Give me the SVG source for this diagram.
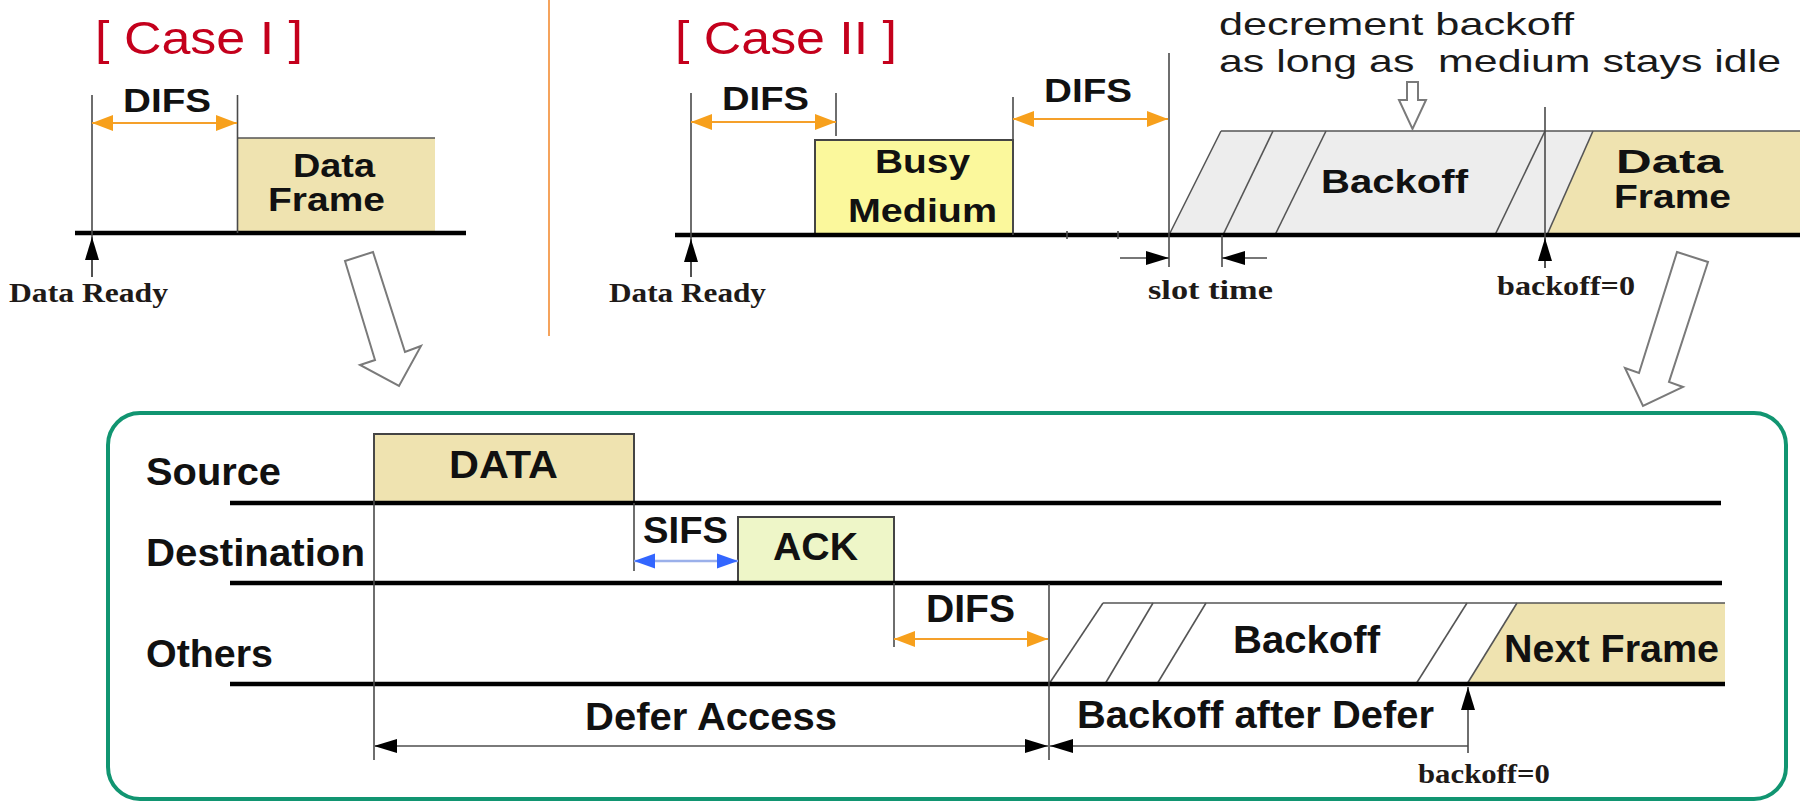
<svg xmlns="http://www.w3.org/2000/svg" width="1806" height="803" viewBox="0 0 1806 803">
  <style>
    .sans { font-family: "Liberation Sans", Arial, sans-serif; font-weight: bold; fill: #111; }
    .thin { font-family: "Liberation Sans", Arial, sans-serif; font-weight: normal; fill: #1a1a1a; white-space: pre; }
    .case { font-family: "Liberation Sans", Arial, sans-serif; font-weight: normal; fill: #c4001c; }
    .serif { font-family: "Liberation Serif", "Times New Roman", serif; font-weight: bold; fill: #1e1a18; }
    .axis { stroke: #000; stroke-width: 4.5; fill: none; }
    .tick { stroke: #4a4a4a; stroke-width: 1.6; fill: none; }
    .edge { stroke: #555; stroke-width: 1.6; fill: none; }
    .box { stroke: #444; stroke-width: 2; }
    .tan { fill: #efe3b0; }
    .orange { stroke: #f5a02a; stroke-width: 2.2; fill: none; }
    .blue { stroke: #9bb0ea; stroke-width: 2.5; fill: none; }
    .dim { stroke: #7a7a7a; stroke-width: 2; fill: none; }
    .hollow { fill: #fff; stroke: #7a7a7a; stroke-width: 2; stroke-linejoin: miter; }
  </style>
  <defs>
    <marker id="mo" markerUnits="userSpaceOnUse" markerWidth="22" markerHeight="18" refX="21" refY="9" orient="auto-start-reverse">
      <path d="M0,1 L21,9 L0,17 Z" fill="#f7a01c"/>
    </marker>
    <marker id="mb" markerUnits="userSpaceOnUse" markerWidth="22" markerHeight="18" refX="21" refY="9" orient="auto-start-reverse">
      <path d="M0,1.5 L21,9 L0,16.5 Z" fill="#3366ff"/>
    </marker>
    <marker id="mk" markerUnits="userSpaceOnUse" markerWidth="24" markerHeight="16" refX="23" refY="8" orient="auto-start-reverse">
      <path d="M0,1 L23,8 L0,15 Z" fill="#000"/>
    </marker>
  </defs>

  <rect width="1806" height="803" fill="#fff"/>

  <!-- separator between the two cases -->
  <line x1="549" y1="0" x2="549" y2="336" stroke="#f5a35c" stroke-width="2"/>

  <!-- ===== Case I ===== -->
  <g id="case1-title">
    <text class="case" x="95" y="54" font-size="46" textLength="208" lengthAdjust="spacingAndGlyphs">[ Case I ]</text>
  </g>
  <g id="case1-frame">
    <rect class="tan" x="237.5" y="138" width="197.5" height="95"/>
    <line class="edge" x1="237.5" y1="138" x2="435" y2="138" stroke-width="2.4"/>
    <text class="sans" x="293" y="177" font-size="33" textLength="82" lengthAdjust="spacingAndGlyphs">Data</text>
    <text class="sans" x="268" y="211" font-size="33" textLength="117" lengthAdjust="spacingAndGlyphs">Frame</text>
  </g>
  <g id="case1-ready">
    <text class="serif" x="9" y="302" font-size="27" textLength="159" lengthAdjust="spacingAndGlyphs">Data Ready</text>
  </g>
  <g id="case1-difs">
    <text class="sans" x="123" y="112" font-size="34" textLength="88" lengthAdjust="spacingAndGlyphs">DIFS</text>
  </g>

  <!-- ===== Case II ===== -->
  <g id="case2-title">
    <text class="case" x="675" y="54" font-size="46" textLength="222" lengthAdjust="spacingAndGlyphs">[ Case II ]</text>
  </g>
  <g id="case2-busy">
    <rect class="box" x="815" y="140" width="198" height="95" fill="#fbf89c"/>
    <text class="sans" x="875" y="173" font-size="34" textLength="95" lengthAdjust="spacingAndGlyphs">Busy</text>
    <text class="sans" x="848" y="222" font-size="34" textLength="149" lengthAdjust="spacingAndGlyphs">Medium</text>
  </g>
  <g id="case2-difs1">
    <text class="sans" x="722" y="110" font-size="34" textLength="87" lengthAdjust="spacingAndGlyphs">DIFS</text>
  </g>
  <g id="case2-difs2">
    <text class="sans" x="1044" y="102" font-size="34" textLength="88" lengthAdjust="spacingAndGlyphs">DIFS</text>
  </g>
  <g id="case2-note">
    <text class="thin" x="1219" y="35" font-size="32" textLength="355" lengthAdjust="spacingAndGlyphs">decrement backoff</text>
    <text class="thin" x="1219" y="72" font-size="32" textLength="562" lengthAdjust="spacingAndGlyphs">as long as  medium stays idle</text>
  </g>
  <g id="case2-backoff">
    <polygon points="1169,235 1221,131 1593,131 1547,235" fill="#ededed"/>
    <polygon class="tan" points="1547,235 1593,131 1800,131 1800,235"/>
    <line class="edge" x1="1221" y1="131" x2="1800" y2="131"/>
    <line class="edge" x1="1169" y1="235" x2="1221" y2="131"/>
    <line class="edge" x1="1223" y1="235" x2="1273" y2="131"/>
    <line class="edge" x1="1275" y1="235" x2="1326" y2="131"/>
    <line class="edge" x1="1495" y1="235" x2="1545" y2="131"/>
    <line class="edge" x1="1547" y1="235" x2="1593" y2="131"/>
    <text class="sans" x="1321" y="193" font-size="34" textLength="147" lengthAdjust="spacingAndGlyphs">Backoff</text>
  </g>
  <g id="case2-frame">
    <text class="sans" x="1616" y="173" font-size="33" textLength="107" lengthAdjust="spacingAndGlyphs">Data</text>
    <text class="sans" x="1614" y="208" font-size="33" textLength="117" lengthAdjust="spacingAndGlyphs">Frame</text>
  </g>
  <g id="case2-ready">
    <text class="serif" x="609" y="302" font-size="27" textLength="157" lengthAdjust="spacingAndGlyphs">Data Ready</text>
  </g>
  <g id="case2-slot">
    <text class="serif" x="1148" y="299" font-size="27" textLength="125" lengthAdjust="spacingAndGlyphs">slot time</text>
  </g>
  <g id="case2-zero">
    <text class="serif" x="1497" y="295" font-size="27" textLength="138" lengthAdjust="spacingAndGlyphs">backoff=0</text>
  </g>

  <!-- ===== exchange timeline ===== -->
  <g id="exchange-panel">
    <rect x="108" y="413" width="1678" height="386" rx="32" ry="32" fill="none" stroke="#119571" stroke-width="4"/>
  </g>
  <g id="row-source">
    <text class="sans" x="146" y="485" font-size="38" textLength="135" lengthAdjust="spacingAndGlyphs">Source</text>
  </g>
  <g id="row-destination">
    <text class="sans" x="146" y="566" font-size="38" textLength="219" lengthAdjust="spacingAndGlyphs">Destination</text>
  </g>
  <g id="row-others">
    <text class="sans" x="146" y="667" font-size="38" textLength="127" lengthAdjust="spacingAndGlyphs">Others</text>
  </g>
  <g id="frame-data">
    <rect class="box tan" x="374" y="434" width="260" height="69"/>
    <text class="sans" x="449" y="478" font-size="38" textLength="109" lengthAdjust="spacingAndGlyphs">DATA</text>
  </g>
  <g id="gap-sifs">
    <text class="sans" x="643" y="543" font-size="37" textLength="85" lengthAdjust="spacingAndGlyphs">SIFS</text>
  </g>
  <g id="frame-ack">
    <rect class="box" x="738" y="517" width="156" height="66" fill="#eef6c8"/>
    <text class="sans" x="773" y="560" font-size="38" textLength="85" lengthAdjust="spacingAndGlyphs">ACK</text>
  </g>
  <g id="gap-difs">
    <text class="sans" x="926" y="622" font-size="38" textLength="89" lengthAdjust="spacingAndGlyphs">DIFS</text>
  </g>
  <g id="others-backoff">
    <polygon points="1049,684 1103,603 1517,603 1467,684" fill="#fff"/>
    <polygon class="tan" points="1467,684 1517,603 1725,603 1725,684"/>
    <line class="edge" x1="1103" y1="603" x2="1725" y2="603"/>
    <line class="edge" x1="1049" y1="684" x2="1103" y2="603"/>
    <line class="edge" x1="1105" y1="684" x2="1153" y2="603"/>
    <line class="edge" x1="1157" y1="684" x2="1206" y2="603"/>
    <line class="edge" x1="1416" y1="684" x2="1467" y2="603"/>
    <line class="edge" x1="1467" y1="684" x2="1517" y2="603"/>
    <text class="sans" x="1233" y="653" font-size="38" textLength="147" lengthAdjust="spacingAndGlyphs">Backoff</text>
  </g>
  <g id="frame-next">
    <text class="sans" x="1504" y="662" font-size="38" textLength="215" lengthAdjust="spacingAndGlyphs">Next Frame</text>
  </g>
  <g id="span-defer">
    <text class="sans" x="585" y="730" font-size="38" textLength="252" lengthAdjust="spacingAndGlyphs">Defer Access</text>
  </g>
  <g id="span-backoff">
    <text class="sans" x="1077" y="728" font-size="38" textLength="357" lengthAdjust="spacingAndGlyphs">Backoff after Defer</text>
  </g>
  <g id="others-zero">
    <text class="serif" x="1418" y="783" font-size="27" textLength="132" lengthAdjust="spacingAndGlyphs">backoff=0</text>
  </g>

  <!-- ===== connectors: time axes, markers, spans and transition arrows ===== -->
  <g id="connectors">
    <!-- time axes -->
    <line class="axis" x1="75" y1="233" x2="466" y2="233"/>
    <line class="axis" x1="675" y1="235" x2="1800" y2="235"/>
    <line class="axis" x1="230" y1="503" x2="1721" y2="503"/>
    <line class="axis" x1="230" y1="583" x2="1722" y2="583"/>
    <line class="axis" x1="230" y1="684" x2="1725" y2="684"/>

    <!-- Case I markers -->
    <line class="tick" x1="92" y1="95" x2="92" y2="277"/>
    <line class="tick" x1="237.5" y1="95" x2="237.5" y2="233"/>
    <line class="orange" x1="92" y1="123" x2="237" y2="123" marker-start="url(#mo)" marker-end="url(#mo)"/>
    <line class="tick" x1="92" y1="277" x2="92" y2="237" marker-end="url(#mk)"/>

    <!-- Case II markers -->
    <line class="tick" x1="691" y1="93" x2="691" y2="277"/>
    <line class="tick" x1="691" y1="277" x2="691" y2="239" marker-end="url(#mk)"/>
    <line class="tick" x1="836" y1="93" x2="836" y2="136"/>
    <line class="orange" x1="691" y1="122" x2="836" y2="122" marker-start="url(#mo)" marker-end="url(#mo)"/>
    <line class="tick" x1="1013" y1="97" x2="1013" y2="235"/>
    <line class="orange" x1="1013" y1="119" x2="1168" y2="119" marker-start="url(#mo)" marker-end="url(#mo)"/>
    <line class="tick" x1="1169" y1="53" x2="1169" y2="267"/>
    <line class="tick" x1="1067" y1="231" x2="1067" y2="239"/>
    <line class="tick" x1="1118" y1="231" x2="1118" y2="239"/>
    <line class="tick" x1="1222" y1="235" x2="1222" y2="267"/>
    <line class="tick" x1="1120" y1="258" x2="1169" y2="258" marker-end="url(#mk)"/>
    <line class="tick" x1="1267" y1="258" x2="1222" y2="258" marker-end="url(#mk)"/>
    <line class="tick" x1="1545" y1="107" x2="1545" y2="268"/>
    <line class="tick" x1="1545" y1="268" x2="1545" y2="238" marker-end="url(#mk)"/>
    <polygon class="hollow" points="1407,82 1418,82 1418,100 1426,100 1412.5,129 1399,100 1407,100"/>

    <!-- transition arrows into the exchange panel -->
    <polygon class="hollow" points="345,261 373,252 405,352 421,346 399,386 360,365 375,360"/>
    <polygon class="hollow" points="1677,252 1708,262 1669,382 1683,387 1643,406 1625,368 1639,373"/>

    <!-- exchange markers -->
    <line class="tick" x1="374" y1="434" x2="374" y2="760"/>
    <line class="tick" x1="634" y1="503" x2="634" y2="571"/>
    <line class="blue" x1="634" y1="561" x2="738" y2="561" marker-start="url(#mb)" marker-end="url(#mb)"/>
    <line class="tick" x1="894" y1="583" x2="894" y2="647" stroke="#888"/>
    <line class="orange" x1="894" y1="639" x2="1048" y2="639" marker-start="url(#mo)" marker-end="url(#mo)"/>
    <line class="tick" x1="1049" y1="584" x2="1049" y2="760"/>
    <line class="dim" x1="374" y1="746" x2="1048" y2="746" marker-start="url(#mk)" marker-end="url(#mk)"/>
    <line class="dim" x1="1050" y1="746" x2="1468" y2="746" marker-start="url(#mk)"/>
    <line class="tick" x1="1468" y1="753" x2="1468" y2="687" marker-end="url(#mk)"/>
  </g>
</svg>
